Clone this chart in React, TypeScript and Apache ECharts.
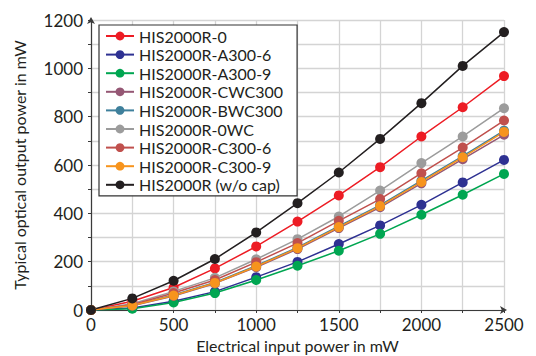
import React, { useEffect, useRef } from "react";
import * as echarts from "echarts";

const xValues = [0, 250, 500, 750, 1000, 1250, 1500, 1750, 2000, 2250, 2500];

const seriesNames = [
  "HIS2000R-0",
  "HIS2000R-A300-6",
  "HIS2000R-A300-9",
  "HIS2000R-CWC300",
  "HIS2000R-BWC300",
  "HIS2000R-0WC",
  "HIS2000R-C300-6",
  "HIS2000R-C300-9",
  "HIS2000R (w/o cap)",
];

const his0 = [0, 36, 93, 172, 263, 366, 474, 591, 718, 839, 968];
const a3006 = [0, 8, 36, 76, 136, 199, 273, 350, 435, 528, 621];
const a3009 = [0, 5, 31, 70, 124, 183, 245, 315, 394, 477, 563];
const cwc300 = [0, 18, 58, 110, 177, 252, 339, 425, 524, 624, 725];
const bwc300 = [0, 20, 62, 114, 183, 259, 347, 434, 535, 637, 742];
const wc0 = [0, 26, 77, 133, 210, 293, 387, 494, 608, 718, 835];
const c3006 = [0, 22, 70, 124, 198, 277, 369, 459, 566, 672, 784];
const c3009 = [0, 19, 60, 112, 180, 256, 343, 430, 530, 632, 737];
const woCap = [0, 48, 121, 211, 321, 442, 569, 708, 856, 1010, 1150];

const seriesData = [his0, a3006, a3009, cwc300, bwc300, wc0, c3006, c3009, woCap];
const colors = [
  "#ed1c24",
  "#2e3192",
  "#00a651",
  "#955774",
  "#3f809c",
  "#9c9c9c",
  "#c0504d",
  "#f7941d",
  "#231f20",
];

const FONT = "Lato, 'Open Sans', sans-serif";

export default function App() {
  const ref = useRef<HTMLDivElement>(null);
  useEffect(() => {
    document.body.style.margin = "0";
    const chart = echarts.init(ref.current!, undefined, { renderer: "svg" });
    chart.setOption({
      animation: false,
      backgroundColor: "#ffffff",
      textStyle: { fontFamily: FONT },
      grid: {
        left: 91,
        right: 32,
        top: 20,
        bottom: 46,
        containLabel: false,
        outerBoundsMode: "none",
      },
      legend: {
        orient: "vertical",
        left: 99,
        top: 25,
        z: 50,
        data: seriesNames,
        backgroundColor: "#ffffff",
        borderColor: "#333333",
        borderWidth: 1.2,
        padding: [3, 14, 3, 6],
        itemWidth: 28,
        itemHeight: 11,
        itemGap: 2.6,
        textStyle: { fontSize: 16, color: "#231f20", fontFamily: FONT },
      },
      xAxis: {
        type: "value",
        min: 0,
        max: 2500,
        interval: 250,
        name: "Electrical input power in mW",
        nameLocation: "middle",
        nameGap: 25,
        nameTextStyle: { fontSize: 16, color: "#231f20", lineHeight: 16 },
        axisLine: {
          show: true,
          symbol: ["none", "arrow"],
          symbolSize: [6, 7],
          symbolOffset: [0, 3],
          lineStyle: { color: "#3a3a3a", width: 1.2 },
        },
        axisTick: { show: true, length: 3, lineStyle: { color: "#3a3a3a" } },
        axisLabel: {
          fontSize: 17,
          color: "#231f20",
          margin: 6,
          formatter: (v: number) => (v % 500 === 0 ? String(v) : ""),
        },
        splitLine: { show: true, lineStyle: { color: "#d4d4d4", width: 1.3 } },
      },
      yAxis: {
        type: "value",
        min: 0,
        max: 1200,
        interval: 100,
        name: "Typical optical output power in mW",
        nameLocation: "middle",
        nameGap: 64,
        nameTextStyle: { fontSize: 16, color: "#231f20" },
        axisLine: {
          show: true,
          symbol: ["none", "arrow"],
          symbolSize: [6, 7],
          symbolOffset: [0, 3],
          lineStyle: { color: "#3a3a3a", width: 1.2 },
        },
        axisTick: { show: true, length: 3, lineStyle: { color: "#3a3a3a" } },
        axisLabel: {
          fontSize: 17,
          color: "#231f20",
          margin: 8,
          formatter: (v: number) => (v % 200 === 0 ? String(v) : ""),
        },
        splitLine: { show: true, lineStyle: { color: "#d4d4d4", width: 1.3 } },
      },
      series: seriesNames.map((name, i) => ({
        name,
        type: "line",
        data: xValues.map((x, j) => [x, seriesData[i][j]]),
        symbol: "circle",
        symbolSize: 10,
        itemStyle: { color: colors[i] },
        lineStyle: { color: colors[i], width: 1.5 },
      })),
    });
    return () => chart.dispose();
  }, []);
  return (
    <div
      ref={ref}
      style={{ position: "absolute", left: 0, top: 0, width: 536, height: 356 }}
    />
  );
}
